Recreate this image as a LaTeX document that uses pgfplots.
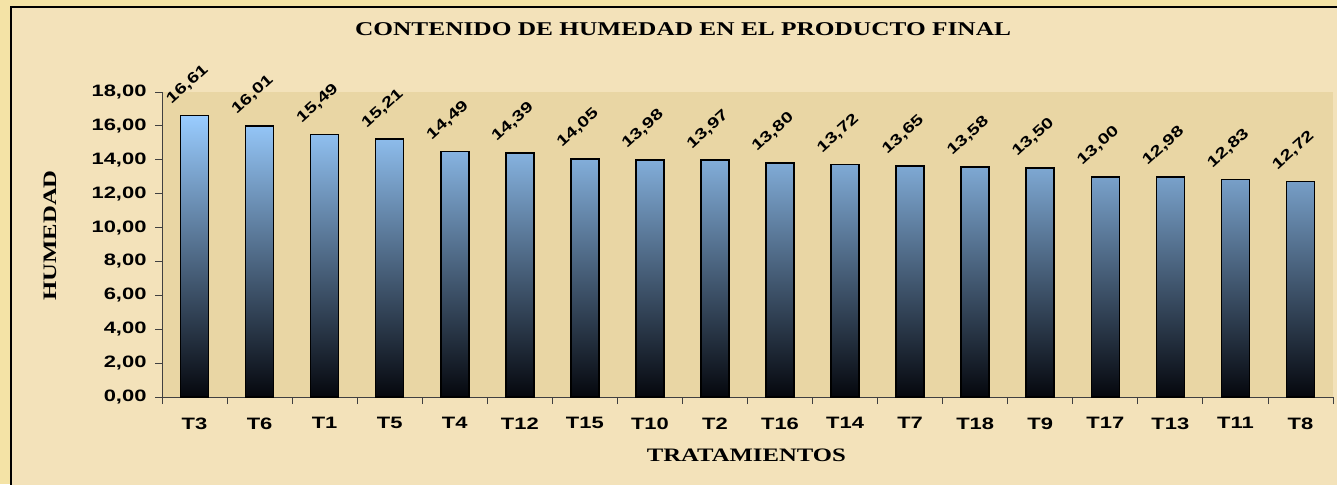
\documentclass[border=0pt]{standalone}
\usepackage{fontspec}
\usepackage{pgfplots}
\pgfplotsset{compat=1.18}
\setmainfont{Liberation Sans}
\newfontfamily\lab[FakeStretch=1.33]{Liberation Sans}
\newfontfamily\tms[FakeStretch=1.3]{Liberation Serif}

\definecolor{parch}{HTML}{F3E2BA}
\definecolor{parchedge}{HTML}{F4E3A6}
\definecolor{papyrus}{HTML}{E9D6A4}
\definecolor{barblue}{HTML}{99CCFF}
\definecolor{barmid}{HTML}{5F82AC}
\definecolor{barblack}{HTML}{05070D}

\begin{document}
\begin{tikzpicture}
\useasboundingbox (0pt,0pt) rectangle (1337pt,-484pt);
\fill[parchedge] (0pt,0pt) rectangle (1337pt,-484pt);
\filldraw[fill=parch, draw=black, line width=1.5pt] (11pt,-7pt) rectangle (1360pt,-510pt);
\begin{axis}[
    at={(162pt,-397pt)}, anchor=south west,
    scale only axis,
    width=1171pt, height=305pt,
    ybar, bar width=28pt,
    xmin=-0.5, xmax=17.5, ymin=0, ymax=18,
    axis x line*=bottom, axis y line*=left,
    axis line style={draw=black!75, line width=0.8pt},
    axis background/.style={fill=papyrus},
    xtick={0,...,17},
    xticklabels={T3,T6,T1,T5,T4,T12,T15,T10,T2,T16,T14,T7,T18,T9,T17,T13,T11,T8},
    major x tick style={draw=none},
    minor xtick={-0.5,0.5,...,17.5},
    ytick={0,2,...,18},
    tick align=outside,
    tick style={draw=black!75, line width=0.8pt},
    major tick length=7pt, minor tick length=7pt,
    /pgf/number format/assume math mode=true,
    ticklabel style={font=\lab\bfseries\fontsize{16.5}{16.5}\selectfont},
    yticklabel style={xshift=-5pt, /pgf/number format/.cd, fixed, fixed zerofill, precision=2, use comma},
    xticklabel style={yshift=-10pt},
    nodes near coords={\pgfmathprintnumber[fixed,fixed zerofill,precision=2,use comma]{\pgfplotspointmeta}},
    every node near coord/.append style={font=\lab\bfseries\fontsize{15}{15}\selectfont,
        anchor=center, xshift=-7pt, yshift=31pt, rotate=42},
    title={CONTENIDO DE HUMEDAD EN EL PRODUCTO FINAL},
    title style={font=\tms\bfseries\fontsize{19.5}{19.5}\selectfont, at={(rel axis cs:0.445,1.185)}, anchor=center},
    xlabel={TRATAMIENTOS},
    xlabel style={font=\tms\bfseries\fontsize{19}{19}\selectfont, at={(rel axis cs:0.499,-0.19)}, anchor=center},
    ylabel={HUMEDAD},
    ylabel style={font=\tms\bfseries\fontsize{19}{19}\selectfont, at={(rel axis cs:-0.0956,0.53)}, anchor=center, rotate=0},
]
\addplot[draw=black, line width=1.6pt, top color=barblue, middle color=barmid, bottom color=barblack] coordinates {
    (0,16.61) (1,16.01) (2,15.49) (3,15.21) (4,14.49) (5,14.39)
    (6,14.05) (7,13.98) (8,13.97) (9,13.80) (10,13.72) (11,13.65)
    (12,13.58) (13,13.50) (14,13.00) (15,12.98) (16,12.83) (17,12.72)
};
\end{axis}
\end{tikzpicture}
\end{document}
